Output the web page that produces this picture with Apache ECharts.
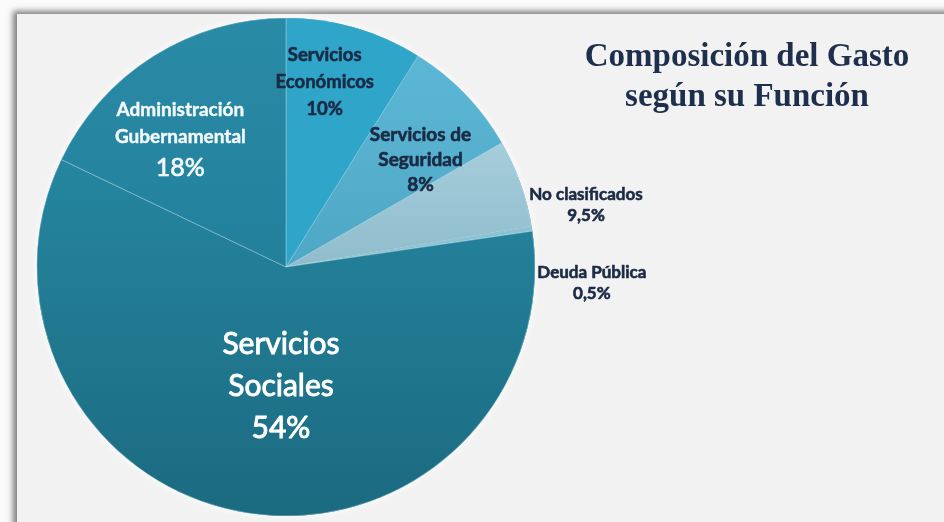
<!DOCTYPE html>
<html>
<head>
<meta charset="utf-8">
<script src="https://cdn.jsdelivr.net/npm/echarts@6/dist/echarts.min.js"></script>
<style>
  html, body { margin: 0; padding: 0; background: #fbfbfb; overflow: hidden; }
  #panel {
    position: absolute; left: 17px; top: 14px; width: 960px; height: 540px;
    background: #f2f2f2;
    box-shadow: -4px -3px 6px rgba(0, 0, 0, 0.5);
  }
  #chart { position: absolute; left: 0; top: 0; width: 944px; height: 522px; }
</style>
</head>
<body>
<div id="panel"></div>
<div id="chart"></div>
<script>
// slice names, printed percentages, and slice sizes as drawn in the picture (share of the circle)
const names = [
  "Servicios Económicos",
  "Servicios de Seguridad",
  "No clasificados",
  "Deuda Pública",
  "Servicios Sociales",
  "Administración Gubernamental",
];
const printed = ["10%", "8%", "9,5%", "0,5%", "54%", "18%"];
const drawnShare = [8.9, 7.8, 5.7, 0.3, 59.4, 17.9];

const titleText = "Composición del Gasto\nsegún su Función";

// look
const center = [286, 267];
const radius = 249;
const colors = [
  "#2ea5c9",
  { type: "linear", x: 0, y: 0, x2: 0, y2: 1, colorStops: [{ offset: 0, color: "#5cb7d6" }, { offset: 1, color: "#4ea7c4" }] },
  { type: "linear", x: 0, y: 0, x2: 0, y2: 1, colorStops: [{ offset: 0, color: "#a6cddc" }, { offset: 1, color: "#8fbccc" }] },
  "#8cc3d4",
  { type: "linear", x: 0, y: 0, x2: 0, y2: 1, colorStops: [{ offset: 0, color: "#25869f" }, { offset: 1, color: "#1b6a80" }] },
  { type: "linear", x: 0, y: 0, x2: 0, y2: 1, colorStops: [{ offset: 0, color: "#2a8ba7" }, { offset: 1, color: "#22809b" }] },
];
// label spot: [angle clockwise from 12 o'clock, fraction of radius]
const labelSpots = [[11.8, 0.76], [51.5, 0.69], [78.4, 1.23], [93, 1.23], [182.4, 0.48], [320, 0.66]];

const dark = "#1b2a44";
const labelStyles = [
  { formatter: "Servicios\nEconómicos\n{v}", color: dark, fontSize: 18.5, lineHeight: 27, thick: 0.6 },
  { formatter: "Servicios de\nSeguridad\n{v}", color: dark, fontSize: 19, lineHeight: 25, thick: 0.6 },
  { formatter: "No clasificados\n{v}", color: dark, fontSize: 17, lineHeight: 21, thick: 0.6 },
  { formatter: "Deuda Pública\n{v}", color: dark, fontSize: 17, lineHeight: 21, thick: 0.6 },
  { formatter: "Servicios\nSociales\n{v}", color: "#ffffff", fontSize: 30, lineHeight: 42, fontWeight: "normal", thick: 0.9 },
  { formatter: "Administración\nGubernamental\n{big}", color: "#f4fafc", fontSize: 19, lineHeight: 27, thick: 0.4 },
];

const chart = echarts.init(document.getElementById("chart"));

const data = names.map((n, i) => {
  const st = labelStyles[i];
  return {
    name: n,
    value: drawnShare[i],
    itemStyle: { color: colors[i] },
    label: {
      formatter: st.formatter.replace("{v}", printed[i]).replace("{big}", "{big|" + printed[i] + "}"),
      color: st.color,
      fontSize: st.fontSize,
      lineHeight: st.lineHeight,
      fontWeight: st.fontWeight || "bold",
      textBorderColor: st.color,
      textBorderWidth: st.thick,
      rich: {
        big: {
          fontSize: 25, fontWeight: "normal", color: st.color, fontFamily: "Lato", lineHeight: 36,
          textBorderColor: st.color, textBorderWidth: 0.7,
        },
      },
    },
  };
});

chart.setOption({
  backgroundColor: "transparent",
  title: {
    text: titleText,
    left: 742,
    top: 32,
    textAlign: "center",
    textStyle: {
      fontFamily: "Liberation Serif",
      fontWeight: "bold",
      fontSize: 33,
      lineHeight: 40,
      color: "#1d2f4d",
    },
  },
  series: [
    {
      type: "pie",
      silent: true,
      center: center,
      radius: radius,
      label: { show: false },
      data: [{ value: 1, itemStyle: { color: "#1f7a93", shadowBlur: 8, shadowColor: "rgba(255,255,255,0.95)" } }],
      z: 1,
    },
    {
      type: "pie",
      center: center,
      radius: radius,
      startAngle: 90,
      clockwise: true,
      avoidLabelOverlap: false,
      labelLine: { show: false },
      itemStyle: { borderWidth: 0.6, borderColor: "rgba(210,235,245,0.35)" },
      label: {
        show: true,
        position: "inside",
        fontFamily: "Lato",
      },
      labelLayout: function (p) {
        const s = labelSpots[p.dataIndex];
        const a = (s[0] * Math.PI) / 180;
        return {
          x: center[0] + radius * s[1] * Math.sin(a),
          y: center[1] - radius * s[1] * Math.cos(a),
          align: "center",
          verticalAlign: "middle",
        };
      },
      data: data,
      z: 2,
    },
  ],
});
</script>
</body>
</html>
